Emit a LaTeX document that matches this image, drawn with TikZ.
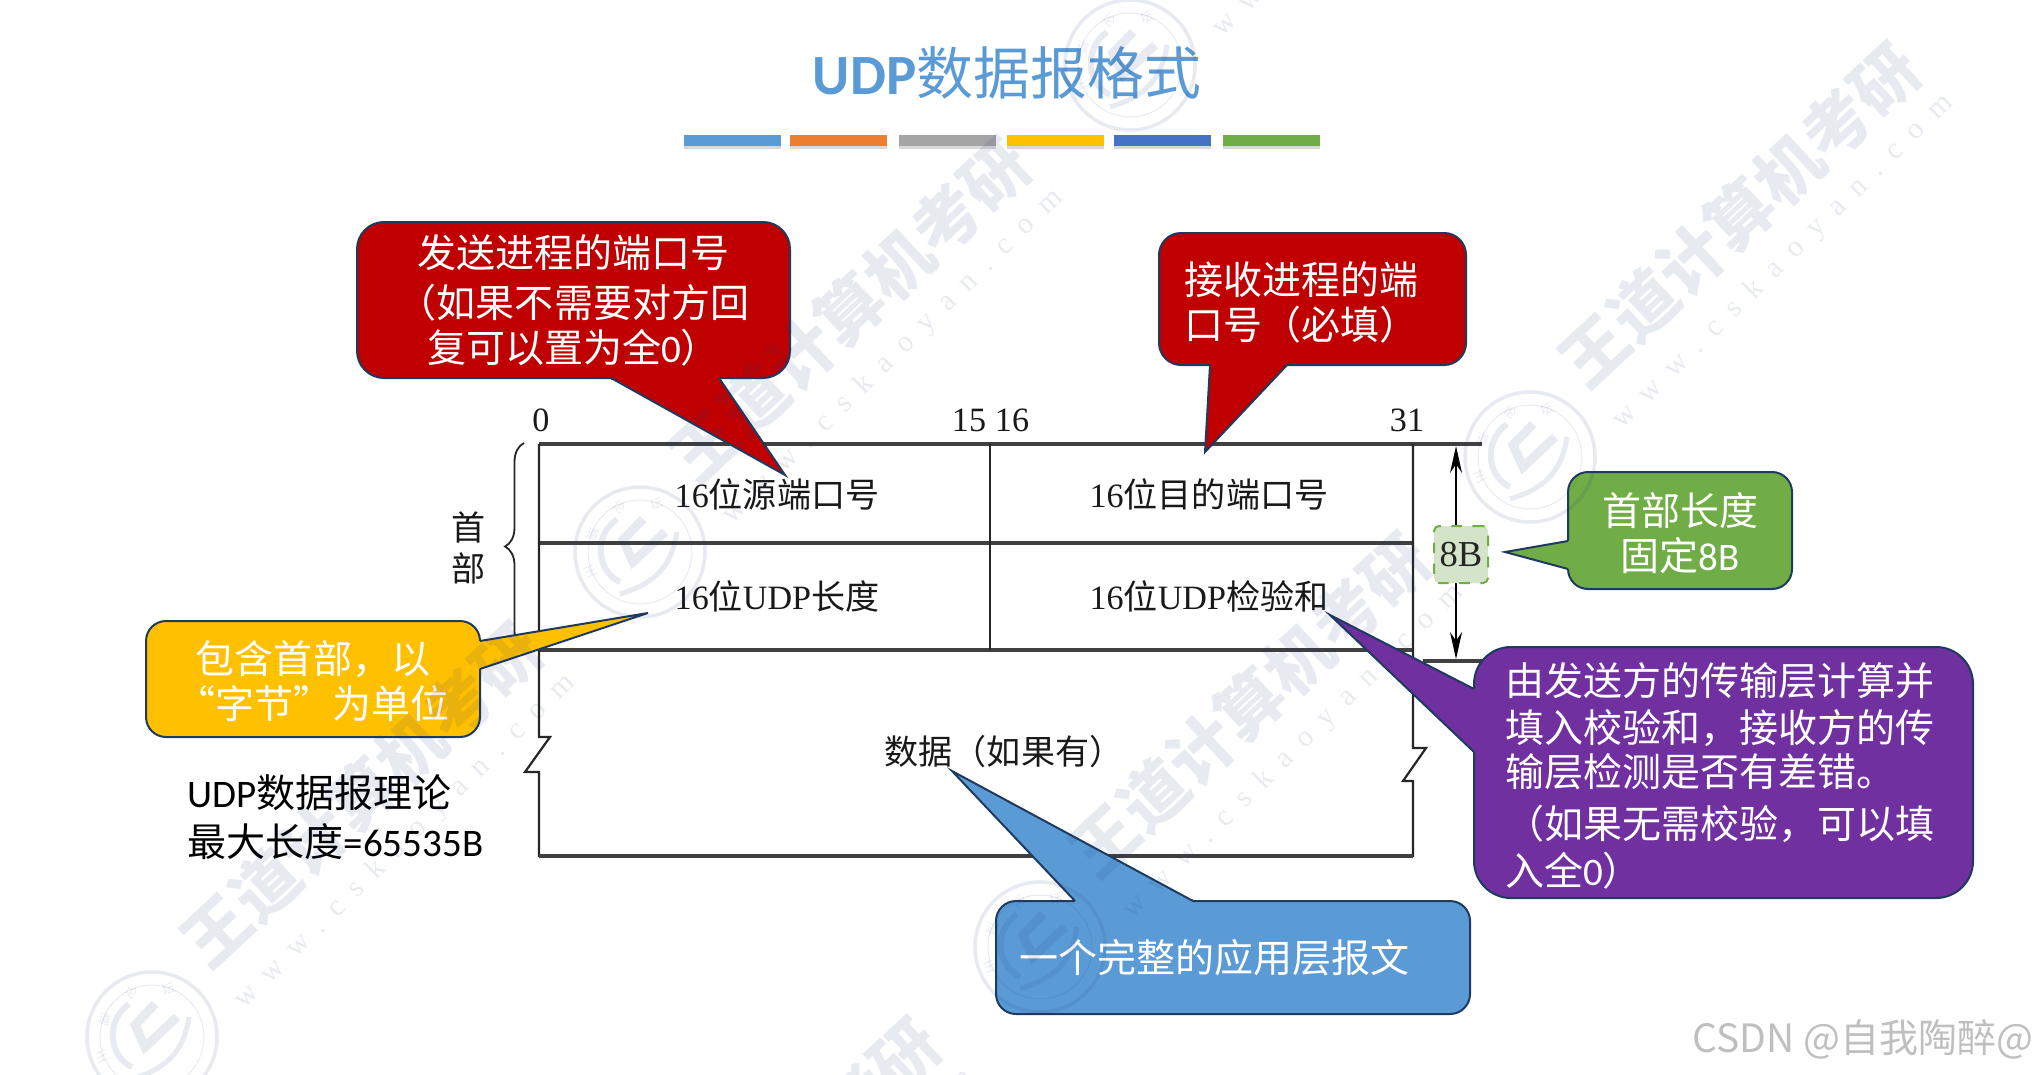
\documentclass[tikz,border=0pt]{standalone}
\usepackage{fontspec}
\setmainfont{Noto Sans CJK SC}
\newfontfamily\numfont{Liberation Serif}
\newfontfamily\latfont{Carlito}
\newfontfamily\urlfont[LetterSpace=50]{Liberation Serif}
\usepackage{xcolor}
\definecolor{offblue}{HTML}{5B9BD5}
\definecolor{offorange}{HTML}{ED7D31}
\definecolor{offgray}{HTML}{A5A5A5}
\definecolor{offyellow}{HTML}{FFC000}
\definecolor{offdblue}{HTML}{4472C4}
\definecolor{offgreen}{HTML}{70AD47}
\definecolor{offred}{HTML}{C00000}
\definecolor{offpurp}{HTML}{7030A0}
\definecolor{edgeblue}{HTML}{1F3A5F}
\definecolor{lightg}{HTML}{D3E4C8}
\definecolor{wmark}{HTML}{1E3278}
\usetikzlibrary{arrows.meta,shadows,decorations.pathreplacing}
\tikzset{
  call/.style={rectangle,draw=edgeblue,line width=0.02cm,text=white,inner xsep=0pt,inner ysep=0pt,
    font=\fontsize{11.1}{12.8}\selectfont},
  callred/.style={call,fill=offred},
  callyel/.style={call,fill=offyellow},
  callgrn/.style={call,fill=offgreen},
  callblu/.style={call,fill=offblue},
  callpur/.style={call,fill=offpurp},
  tailline/.style={draw=edgeblue,line width=0.02cm,line join=miter},
  cell/.style={text=black!90,inner sep=0pt,font=\fontsize{9.7}{11.5}\selectfont},
  num/.style={text=black!90,inner sep=0pt,font=\fontsize{9.7}{11.5}\selectfont\numfont},
  hline/.style={draw=black!75,line width=0.032cm},
  vline/.style={draw=black!85,line width=0.022cm},
  bar/.style={rectangle,minimum width=0.97cm,minimum height=0.11cm,inner sep=0pt,
    drop shadow={shadow xshift=0pt,shadow yshift=-0.8pt,opacity=0.3}},
  wmtext/.style={text=wmark,text opacity=0.1,inner sep=0pt},
  wmline/.style={draw=wmark,draw opacity=0.1},
  span/.style={>={Stealth[length=0.27cm,width=0.12cm]},<->,line width=0.015cm},
}
% tail of a callout: colour, base point, base point, tip
\newcommand{\calltail}[4]{
  \fill[#1] (#2) -- (#4) -- (#3) -- cycle;
  \draw[draw=#1,line width=0.035cm] (#2) -- (#3);
  \draw[tailline] (#2) -- (#4) -- (#3);
}
% pushes a callout text down a little
\newcommand{\lowr}[1]{\rule{0pt}{#1}}
% one round seal of the background
\newcommand{\wdseal}[1]{
  \begin{scope}[shift={(#1)}]
    \draw[wmline,line width=0.035cm] (0,0) circle (0.65);
    \draw[wmline,line width=0.01cm] (0,0) circle (0.52);
    \draw[wmline,line width=0.06cm] (-0.23,-0.33) .. controls (-0.48,-0.15) and (-0.42,0.2) .. (-0.2,0.3);
    \draw[wmline,line width=0.09cm] (0.03,-0.33) -- (-0.17,-0.12) -- (-0.07,0.10) -- (0.25,-0.20);
    \draw[wmline,line width=0.05cm] (0.37,-0.2) .. controls (0.32,0.1) and (0.2,0.3) .. (-0.2,0.42);
    \node[wmtext,rotate=24,font=\fontsize{3.6}{4}\selectfont] at (-0.5,0.2) {王};
    \node[wmtext,rotate=-20,font=\fontsize{3.6}{4}\selectfont] at (-0.47,-0.18) {道};
    \node[wmtext,rotate=-40,font=\fontsize{3.6}{4}\selectfont] at (-0.2,-0.45) {论};
    \node[wmtext,rotate=20,font=\fontsize{3.6}{4}\selectfont] at (0.17,-0.48) {坛};
    \node[wmtext,rotate=43,font=\bfseries\fontsize{18.8}{22}\selectfont] at (2.10,-2.42) {王道计算机考研};
    \node[wmtext,rotate=44.5,font=\fontsize{8.5}{9}\selectfont\urlfont] at (2.53,-1.95) {www.cskaoyan.com};
  \end{scope}
}

\begin{document}
\begin{tikzpicture}[x=1cm,y=-1cm]
  \useasboundingbox (0,0) rectangle (20.36,10.74);

  % title and colour bars
  \node[inner sep=0pt,text=offblue,font=\fontsize{16.2}{18}\selectfont] (title) at (10.07,0.73) {{\latfont\bfseries UDP}数据报格式};
  \foreach \xb/\cb/\nb in {7.325/offblue/bara,8.385/offorange/barb,9.475/offgray/barc,10.555/offyellow/bard,11.625/offdblue/bare,12.715/offgreen/barf}
    \node[bar,fill=\cb] (\nb) at (\xb,1.405) {};

  % header format
  \draw[hline] (5.39,4.44) -- (14.82,4.44);
  \draw[hline] (5.39,5.43) -- (14.13,5.43);
  \draw[hline] (5.39,6.50) -- (14.13,6.50);
  \draw[hline] (14.23,6.61) -- (14.82,6.61);
  \draw[vline] (9.90,4.44) -- (9.90,6.50);
  \draw[vline] (5.39,4.44) -- (5.39,7.37) -- (5.50,7.37) -- (5.25,7.72) -- (5.39,7.72) -- (5.39,8.56) -- (14.13,8.56)
    -- (14.13,7.81) -- (14.03,7.81) -- (14.26,7.48) -- (14.13,7.48) -- (14.13,4.44);
  \draw[hline] (5.39,8.56) -- (14.13,8.56);

  \node[num] (nzero) at (5.41,4.20) {0};
  \node[num] (nfif) at (9.69,4.20) {15};
  \node[num,right of=nfif,node distance=0.43cm] (nsix) {16};
  \node[num] (nend) at (14.07,4.20) {31};

  \node[cell] (srcport) at (7.77,4.945) {{\numfont 16}位源端口号};
  \node[cell] (dstport) at (12.09,4.945) {{\numfont 16}位目的端口号};
  \node[cell] (udplen) at (7.77,5.965) {{\numfont 16}位{\numfont UDP}长度};
  \node[cell] (udpsum) at (12.09,5.965) {{\numfont 16}位{\numfont UDP}检验和};
  \node[cell] (payload) at (10.04,7.52) {数据（如果有）};

  \node[cell] (hda) at (4.69,5.27) {首};
  \node[cell] (hdb) at (4.69,5.68) {部};
  \draw[decorate,decoration={brace,amplitude=0.19cm},line width=0.018cm,black!85] (5.24,6.50) -- (5.24,4.43);

  % 8B span
  \draw[span] (14.56,4.46) -- (14.56,6.59);
  \node[rectangle,rounded corners=0.05cm,draw=offgreen,fill=lightg,dashed,line width=0.02cm,minimum width=0.54cm,minimum height=0.57cm,inner sep=0pt,font=\fontsize{10.4}{11.5}\selectfont\numfont,text=black!85] (spanlen) at (14.61,5.545) {8B};

  \node[inner sep=0pt,align=left,font=\fontsize{11.1}{13.9}\selectfont,anchor=west] (theory) at (1.87,8.175) {{\latfont UDP}数据报理论\\最大长度{\latfont =65535B}};

  % callouts
  \node[callred,rounded corners=0.27cm,minimum width=4.33cm,minimum height=1.56cm,align=center] (send) at (5.735,3.00)
    {发送进程的端口号\\[1.4pt]（如果不需要对方回\\复可以置为全{\latfont 0}）};
  \coordinate (senda) at (6.11,3.78);
  \coordinate (sendb) at (7.19,3.78);
  \coordinate (sendtip) at (7.85,4.75);
  \calltail{offred}{senda}{sendb}{sendtip}

  \node[callred,rounded corners=0.22cm,text width=2.57cm,inner xsep=0.25cm,minimum height=1.32cm,align=left] (recv) at (13.125,2.99)
    {\lowr{11.4pt}接收进程的端\\口号（必填）};
  \coordinate (recva) at (12.10,3.65);
  \coordinate (recvb) at (12.87,3.65);
  \coordinate (recvtip) at (12.05,4.52);
  \calltail{offred}{recva}{recvb}{recvtip}

  \node[callgrn,rounded corners=0.2cm,minimum width=2.24cm,minimum height=1.17cm,align=center] (fixed) at (16.80,5.305)
    {\lowr{10.8pt}首部长度\\固定{\latfont 8B}};
  \coordinate (fixeda) at (15.68,5.41);
  \coordinate (fixedb) at (15.68,5.69);
  \coordinate (fixedtip) at (15.05,5.52);
  \calltail{offgreen}{fixeda}{fixedb}{fixedtip}

  \node[callyel,rounded corners=0.2cm,minimum width=3.34cm,minimum height=1.16cm,align=center] (bytes) at (3.13,6.79)
    {\lowr{10.8pt}包含首部，以\\“字节”为单位};
  \coordinate (bytesa) at (4.80,6.41);
  \coordinate (bytesb) at (4.80,6.69);
  \coordinate (bytestip) at (6.48,6.13);
  \calltail{offyellow}{bytesa}{bytesb}{bytestip}

  \node[callpur,rounded corners=0.37cm,text width=4.37cm,inner xsep=0.31cm,minimum height=2.51cm,align=left] (check) at (17.235,7.725)
    {\lowr{11.4pt}由发送方的传输层计算并\\[0.5pt]填入校验和，接收方的传\\[-0.2pt]输层检测是否有差错。\\[1.9pt]（如果无需校验，可以填\\[0.5pt]入全{\latfont 0}）};
  \coordinate (checka) at (14.74,6.89);
  \coordinate (checkb) at (14.74,7.52);
  \coordinate (checktip) at (13.30,6.15);
  \calltail{offpurp}{checka}{checkb}{checktip}

  \node[callblu,rounded corners=0.2cm,text width=4.28cm,inner xsep=0.23cm,minimum height=1.13cm,align=left] (appmsg) at (12.33,9.575)
    {一个完整的应用层报文};
  \coordinate (appmsga) at (10.75,9.01);
  \coordinate (appmsgb) at (11.93,9.01);
  \coordinate (appmsgtip) at (9.52,7.71);
  \calltail{offblue}{appmsga}{appmsgb}{appmsgtip}

  % background marks lie over everything
  \begin{scope}
    \clip (0,0) rectangle (20.36,10.74);
    \foreach \xs/\ys in {1.52/10.37,6.40/5.52,11.30/0.65,5.50/14.32,10.40/9.47,15.30/4.57} {
      \wdseal{\xs,\ys}
    }
  \end{scope}

  \node[inner sep=0pt,anchor=east,text=black!25,font=\fontsize{11.1}{13}\selectfont] (csdn) at (20.34,10.39) {CSDN @自我陶醉@};
\end{tikzpicture}
\end{document}
